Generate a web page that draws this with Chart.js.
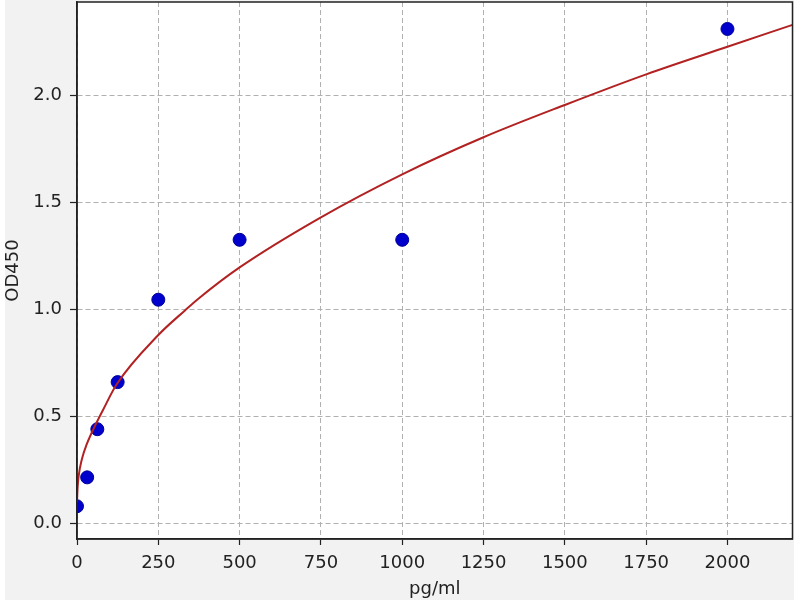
<!DOCTYPE html>
<html>
<head>
<meta charset="utf-8">
<script src="https://cdn.jsdelivr.net/npm/chart.js@4/dist/chart.umd.min.js"></script>
<style>
html,body{margin:0;padding:0;background:#fff;}
canvas{display:block;}
</style>
</head>
<body>
<canvas id="c" width="800" height="600"></canvas>
<script>
// Measured standards
const concentrations = [0, 31.25, 62.5, 125, 250, 500, 1000, 2000];
const odValues = [0.08, 0.215, 0.44, 0.66, 1.045, 1.325, 1.325, 2.31];

// Fitted curve, values
const curveX = [0, 2, 5, 15, 30, 60, 80, 122, 250, 332, 375, 500, 750, 1000, 1250, 1500, 1750, 2000, 2200];
const curveY = [0.10, 0.17, 0.22, 0.30, 0.37, 0.47, 0.53, 0.65, 0.88, 0.995, 1.052, 1.196, 1.43, 1.631, 1.804, 1.955, 2.098, 2.227, 2.329];

// Tick labels
const xTicks = [0, 250, 500, 750, 1000, 1250, 1500, 1750, 2000];
const yTicks = [0.0, 0.5, 1.0, 1.5, 2.0];

const xTitle = 'pg/ml';
const yTitle = 'OD450';

const FONT = 'DejaVu Sans';
const TXT = '#222';
const FS = 18;
const PLOT_TOP = 2;

const bgPlugin = {
  id: 'bg',
  afterLayout(chart) {
    // pin the top of the plotting area
    chart.chartArea.top = PLOT_TOP;
    chart.chartArea.height = chart.chartArea.bottom - PLOT_TOP;
    const y = chart.scales.y;
    y.top = PLOT_TOP;
    y.height = y.bottom - PLOT_TOP;
    y.configure();
  },
  beforeDraw(chart) {
    const ctx = chart.ctx, a = chart.chartArea;
    ctx.save();
    ctx.fillStyle = '#ffffff';
    ctx.fillRect(0, 0, chart.width, chart.height);
    ctx.fillStyle = '#f2f2f2';
    ctx.fillRect(5, 0, 789, chart.height);
    ctx.fillStyle = '#ffffff';
    ctx.fillRect(a.left, a.top, a.right - a.left, a.bottom - a.top);
    ctx.restore();
  },
  afterDraw(chart) {
    const ctx = chart.ctx, a = chart.chartArea;
    ctx.save();
    ctx.strokeStyle = '#222';
    ctx.lineWidth = 1.5;
    ctx.strokeRect(a.left, a.top, a.right - a.left, a.bottom - a.top);
    ctx.restore();
  }
};

new Chart(document.getElementById('c'), {
  type: 'scatter',
  data: {
    datasets: [
      {
        label: 'fit',
        data: curveX.map((x, i) => ({x: x, y: curveY[i]})),
        showLine: true,
        borderColor: '#b22222',
        borderWidth: 2,
        pointRadius: 0,
        pointHoverRadius: 0,
        cubicInterpolationMode: 'monotone',
        clip: 0
      },
      {
        label: 'standards',
        data: concentrations.map((x, i) => ({x: x, y: odValues[i]})),
        showLine: false,
        pointRadius: 6.5,
        pointHoverRadius: 6.5,
        backgroundColor: '#0000cc',
        borderColor: '#00009a',
        borderWidth: 1,
        clip: 0
      }
    ]
  },
  options: {
    responsive: false,
    animation: false,
    devicePixelRatio: 1,
    events: [],
    layout: { padding: { top: 2, right: 7, left: 0, bottom: 0 } },
    plugins: {
      legend: { display: false },
      tooltip: { enabled: false }
    },
    scales: {
      x: {
        type: 'linear',
        min: 0,
        max: 2200,
        afterFit(s) { s.height = 61; s.paddingLeft = 0; s.paddingRight = 0; },
        afterBuildTicks(s) { s.ticks = xTicks.map(v => ({value: v})); },
        ticks: {
          color: TXT,
          font: { family: FONT, size: FS },
          padding: 8,
          maxRotation: 0,
          autoSkip: false,
          callback: v => String(v)
        },
        grid: {
          color: '#b0b0b0',
          lineWidth: 1,
          tickColor: '#222',
          tickLength: 6,
          tickWidth: 1.2,
          tickBorderDash: []
        },
        border: { display: true, color: '#222', width: 1.5, dash: [5, 3] },
        title: {
          display: true,
          text: xTitle,
          color: TXT,
          font: { family: FONT, size: FS },
          padding: { top: 0, bottom: 0 }
        }
      },
      y: {
        type: 'linear',
        min: -0.073,
        max: 2.436,
        afterFit(s) { s.width = 77; s.paddingTop = 0; s.paddingBottom = 0; },
        afterBuildTicks(s) { s.ticks = yTicks.map(v => ({value: v})); },
        ticks: {
          color: TXT,
          font: { family: FONT, size: FS },
          padding: 8,
          autoSkip: false,
          callback: v => Number(v).toFixed(1)
        },
        grid: {
          color: '#b0b0b0',
          lineWidth: 1,
          tickColor: '#222',
          tickLength: 7,
          tickWidth: 1.2,
          tickBorderDash: []
        },
        border: { display: true, color: '#222', width: 1.5, dash: [5, 3] },
        title: {
          display: true,
          text: yTitle,
          color: TXT,
          font: { family: FONT, size: FS },
          padding: { top: 3, bottom: 0 }
        }
      }
    }
  },
  plugins: [bgPlugin]
});
</script>
</body>
</html>
